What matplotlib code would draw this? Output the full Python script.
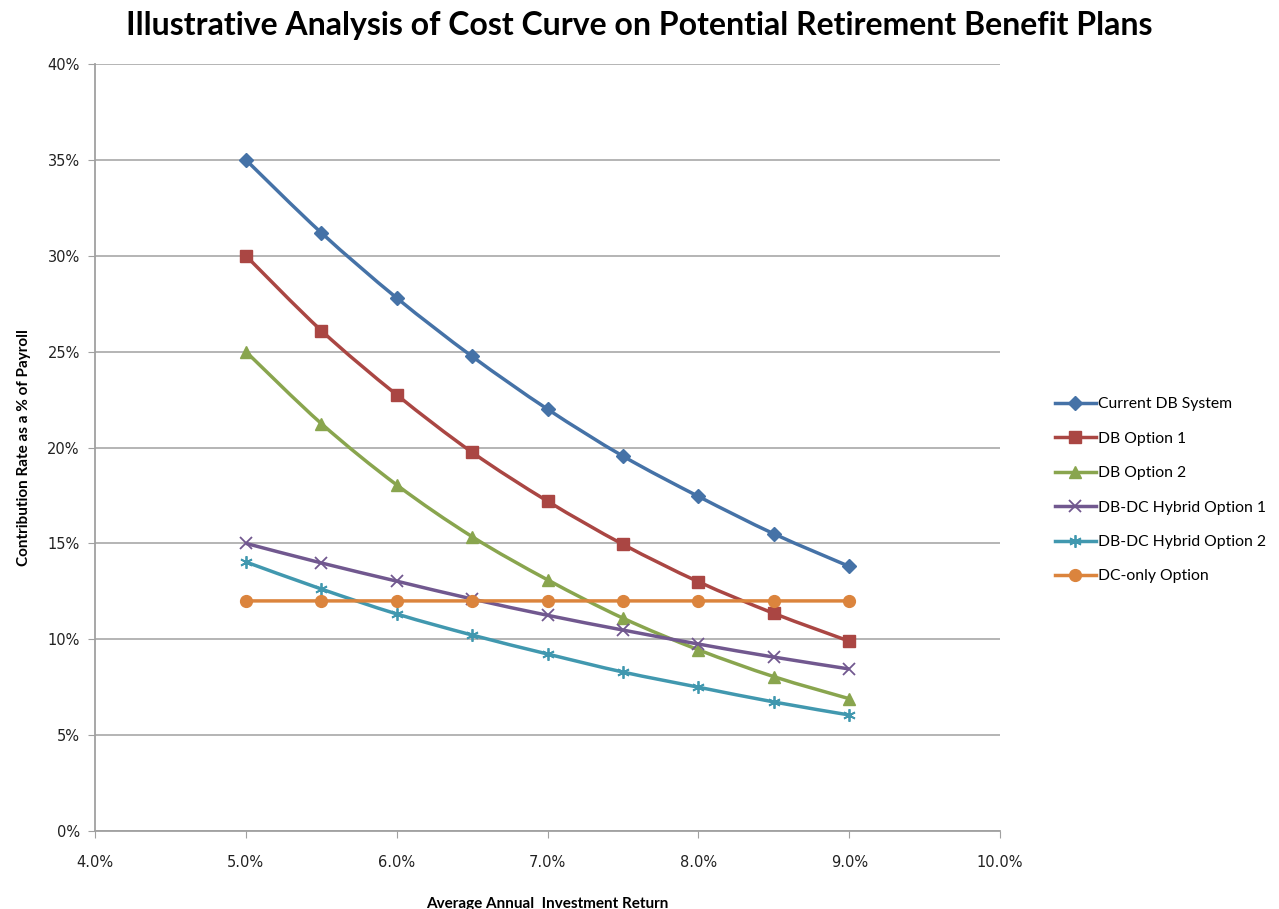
import matplotlib
matplotlib.use('Agg')
import matplotlib.pyplot as plt
import numpy as np
from matplotlib.path import Path
from matplotlib.patches import PathPatch
from matplotlib.ticker import FuncFormatter, MultipleLocator

# data
returns = [5.0, 5.5, 6.0, 6.5, 7.0, 7.5, 8.0, 8.5, 9.0]
current_db = [35.0, 31.2, 27.8, 24.75, 22.0, 19.55, 17.45, 15.5, 13.8]
db_option1 = [30.0, 26.1, 22.75, 19.75, 17.2, 14.95, 13.0, 11.35, 9.9]
db_option2 = [25.0, 21.25, 18.05, 15.35, 13.1, 11.1, 9.45, 8.05, 6.9]
hybrid1 = [15.0, 13.98, 13.03, 12.1, 11.25, 10.48, 9.75, 9.07, 8.45]
hybrid2 = [14.03, 12.62, 11.32, 10.22, 9.23, 8.29, 7.5, 6.73, 6.05]
dc_only = [12.0, 12.0, 12.0, 12.0, 12.0, 12.0, 12.0, 12.0, 12.0]

series = [
  ("Current DB System", current_db, '#4572A7', 'D', 7),
  ("DB Option 1", db_option1, '#AA4643', 's', 8.5),
  ("DB Option 2", db_option2, '#89A54E', '^', 9),
  ("DB-DC Hybrid Option 1", hybrid1, '#71588F', 'x', 8),
  ("DB-DC Hybrid Option 2", hybrid2, '#4198AF', (6, 2, 0), 9),
  ("DC-only Option", dc_only, '#DB843D', 'o', 8.5),
]


def smooth_path(x, y, t=1/6):
  # Excel style smoothed line: bezier segments through the data points
  x = np.asarray(x, float)
  y = np.asarray(y, float)
  verts = [(x[0], y[0])]
  codes = [Path.MOVETO]
  n = len(x)
  for i in range(n - 1):
    x0, y0 = (x[i - 1], y[i - 1]) if i > 0 else (x[i], y[i])
    x3, y3 = (x[i + 2], y[i + 2]) if i + 2 < n else (x[i + 1], y[i + 1])
    c1 = (x[i] + (x[i + 1] - x0) * t, y[i] + (y[i + 1] - y0) * t)
    c2 = (x[i + 1] - (x3 - x[i]) * t, y[i + 1] - (y3 - y[i]) * t)
    verts += [c1, c2, (x[i + 1], y[i + 1])]
    codes += [Path.CURVE4] * 3
  return Path(verts, codes)


plt.rcParams['font.family'] = ['Lato', 'DejaVu Sans']

fig = plt.figure(figsize=(12.79, 9.09), dpi=100)
ax = fig.add_axes([0.0743, 0.0858, 0.7076, 0.8438])

grid_color = '#A0A0A0'
for name, vals, color, marker, ms in series:
  mew = 1.3 if marker in ('x', (6, 2, 0)) else 1
  ax.add_patch(PathPatch(smooth_path(returns, vals), facecolor='none',
                         edgecolor=color, linewidth=2.5, zorder=3))
  ax.plot(returns, vals, linestyle='none', marker=marker, markersize=ms,
          color=color, markeredgecolor=color, markeredgewidth=mew, zorder=4)
  # legend proxy
  ax.plot([], [], color=color, linewidth=2.5, marker=marker, markersize=ms,
          markeredgewidth=mew, label=name)

ax.set_xlim(4.0, 10.0)
ax.set_ylim(0, 40)
ax.xaxis.set_major_locator(MultipleLocator(1.0))
ax.yaxis.set_major_locator(MultipleLocator(5))
ax.xaxis.set_major_formatter(FuncFormatter(lambda v, p: f"{v:.1f}%"))
ax.yaxis.set_major_formatter(FuncFormatter(lambda v, p: f"{v:.0f}%"))
ax.yaxis.grid(True, color=grid_color, linewidth=1.1)
ax.set_axisbelow(True)

for side in ['top', 'right']:
  ax.spines[side].set_visible(False)
for side in ['left', 'bottom']:
  ax.spines[side].set_color(grid_color)
  ax.spines[side].set_linewidth(1.3)
ax.tick_params(axis='both', direction='out', length=5, color=grid_color,
               labelsize=10.5, labelcolor='#222222', labelfontfamily='DejaVu Sans')
ax.tick_params(axis='x', pad=12)
ax.tick_params(axis='y', pad=6)

ax.set_xlabel('Average Annual  Investment Return', fontsize=11, fontweight='bold', labelpad=20)
ax.set_ylabel('Contribution Rate as a % of Payroll', fontsize=11, fontweight='bold', labelpad=12)

fig.suptitle('Illustrative Analysis of Cost Curve on Potential Retirement Benefit Plans',
             x=0.5, y=0.988, fontsize=23, fontweight='bold')

ax.legend(loc='center left', bbox_to_anchor=(1.045, 0.444), frameon=False,
          fontsize=11.3, labelspacing=1.3, handlelength=2.6, handletextpad=0.15)

fig.savefig('out.png', dpi=100)
